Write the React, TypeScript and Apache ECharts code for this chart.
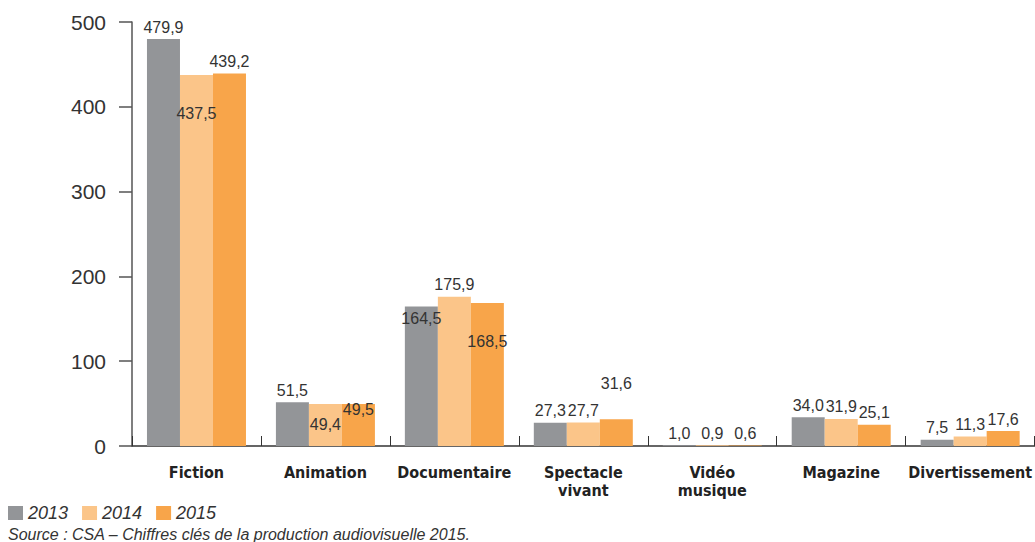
import React, { useEffect, useRef } from "react";
import * as echarts from "echarts";

const categories = ["Fiction", "Animation", "Documentaire", "Spectacle\nvivant", "Vidéo\nmusique", "Magazine", "Divertissement"];
const years = ["2013", "2014", "2015"];
const values2013 = [479.9, 51.5, 164.5, 27.3, 1.0, 34.0, 7.5];
const values2014 = [437.5, 49.4, 175.9, 27.7, 0.9, 31.9, 11.3];
const values2015 = [439.2, 49.5, 168.5, 31.6, 0.6, 25.1, 17.6];
const yTicks = [0, 100, 200, 300, 400, 500];
const sourceText = "Source : CSA – Chiffres clés de la production audiovisuelle 2015.";

const colors = ["#939598", "#FBC589", "#F8A54A"];
// vertical label shifts (px), keyed "series-category"
const labelShift: Record<string, number> = {
  "1-0": 50,
  "1-1": 32,
  "2-1": 17,
  "0-2": 24,
  "2-2": 50,
  "2-3": -24,
};

const fmt = (v: number) => v.toFixed(1).replace(".", ",");

export default function App() {
  const ref = useRef<HTMLDivElement>(null);
  useEffect(() => {
    if (!ref.current) return;
    const chart = echarts.init(ref.current, null, { renderer: "svg" });
    const all = [values2013, values2014, values2015];
    const series = all.map((vals, si) => ({
      name: years[si],
      type: "bar",
      barWidth: 33,
      barGap: "0%",
      itemStyle: { color: colors[si] },
      data: vals.map((v, ci) => ({
        value: v,
        label: { offset: [0, labelShift[`${si}-${ci}`] || 0] },
      })),
      label: {
        show: true,
        position: "top",
        distance: 4,
        color: "#333",
        fontSize: 16,
        fontFamily: "'Liberation Sans', Arial, sans-serif",
        formatter: (p: any) => fmt(p.value),
      },
    }));
    chart.setOption({
      animation: false,
      grid: { left: 132, right: 0, top: 22, bottom: 96, containLabel: false },
      legend: {
        left: 8,
        top: 504,
        icon: "rect",
        itemWidth: 15,
        itemHeight: 14,
        itemGap: 14,
        data: years,
        padding: 0,
        textStyle: {
          fontSize: 18,
          fontStyle: "italic",
          color: "#333",
          fontFamily: "'Liberation Sans', Arial, sans-serif",
        },
      },
      xAxis: {
        type: "category",
        data: categories,
        axisLine: { show: true, lineStyle: { color: "#333", width: 1.5 } },
        axisTick: { show: true, inside: true, length: 10, lineStyle: { color: "#333" } },
        axisLabel: {
          color: "#222",
          fontWeight: "bold",
          fontSize: 16,
          lineHeight: 18,
          margin: 17,
          interval: 0,
          fontFamily: "'Liberation Sans Narrow', 'DejaVu Sans Condensed', Arial, sans-serif",
        },
      },
      yAxis: {
        type: "value",
        min: yTicks[0],
        max: yTicks[yTicks.length - 1],
        interval: 100,
        splitLine: { show: false },
        axisLine: { show: true, lineStyle: { color: "#555", width: 1.5 } },
        axisTick: { show: true, length: 13, lineStyle: { color: "#555", width: 1.5 } },
        axisLabel: {
          color: "#333",
          fontSize: 21,
          margin: 26,
          fontFamily: "'Liberation Sans', Arial, sans-serif",
        },
      },
      graphic: [
        {
          type: "text",
          left: 8,
          top: 526,
          style: {
            text: sourceText,
            fontSize: 16,
            fontStyle: "italic",
            fill: "#333",
            fontFamily: "'Liberation Sans', Arial, sans-serif",
          },
        },
      ],
      series,
    });
    return () => chart.dispose();
  }, []);
  return (
    <div
      ref={ref}
      style={{ position: "fixed", left: 0, top: 0, width: 1035, height: 542, background: "#fff" }}
    />
  );
}
